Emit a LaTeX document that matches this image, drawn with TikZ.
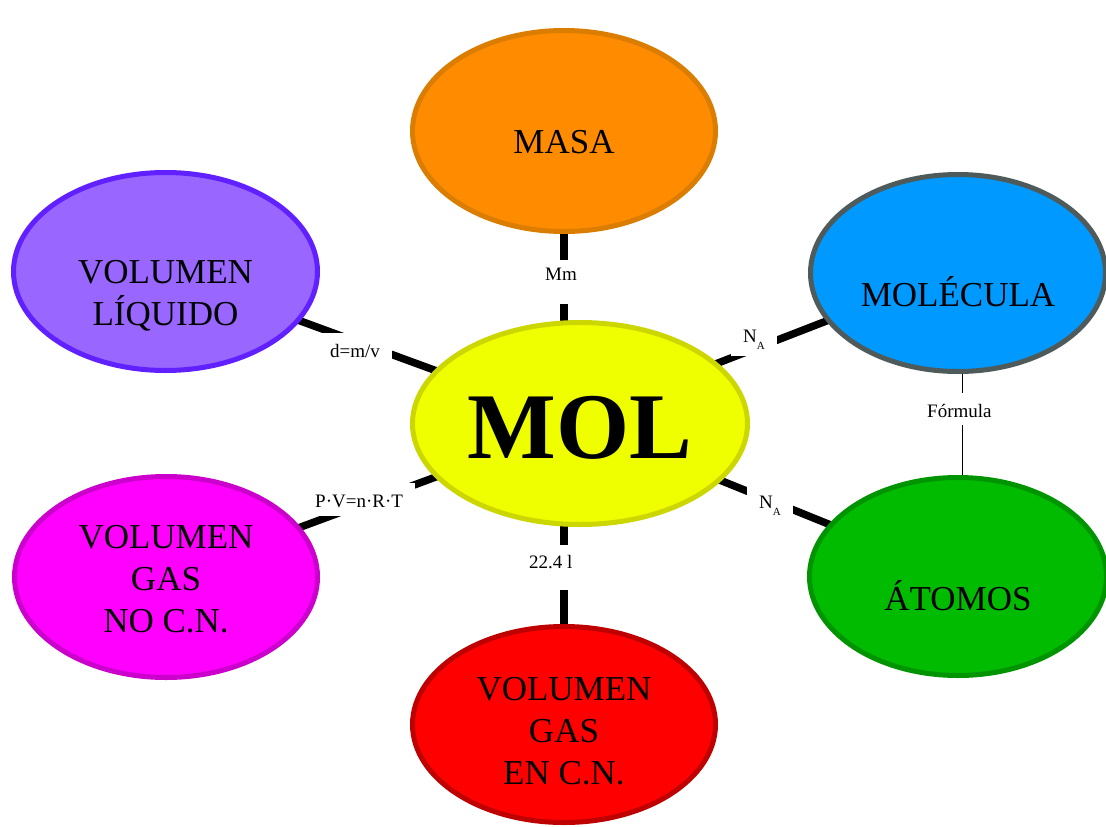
\documentclass[tikz,border=0pt]{standalone}
\usepackage{fontspec}
\setmainfont{Liberation Serif}
\usetikzlibrary{shapes.geometric,backgrounds}
\definecolor{masaF}{HTML}{FF8C00}\definecolor{masaD}{HTML}{DB7D00}
\definecolor{liqF}{HTML}{9966FF}\definecolor{liqD}{HTML}{6020FF}
\definecolor{molecF}{HTML}{0099FF}\definecolor{molecD}{HTML}{4F5B5B}
\definecolor{molF}{HTML}{F0FF00}\definecolor{molD}{HTML}{CCD600}
\definecolor{gasnoF}{HTML}{FF00FF}\definecolor{gasnoD}{HTML}{CC00CC}
\definecolor{atomF}{HTML}{00BB00}\definecolor{atomD}{HTML}{009400}
\definecolor{gasenF}{HTML}{FF0000}\definecolor{gasenD}{HTML}{BF0000}
\newcommand{\bigfont}{\fontsize{35}{42}\selectfont}
\newcommand{\lines}[1]{\begin{tabular}[t]{@{}c@{}}#1\end{tabular}}
\newcommand{\NA}{N\raisebox{-7pt}{\fontsize{11}{11}\selectfont A}}
\begin{document}
\begin{tikzpicture}[x=1pt,y=-1pt,
  bubble/.style={ellipse,line width=5pt,inner sep=0pt,outer sep=0pt,font=\bigfont,text depth=0pt},
  conn/.style={line width=7.5pt,black},
  thinconn/.style={line width=1pt,black},
  lab/.style={fill=white,inner xsep=12pt,inner ysep=0pt,text height=24pt,text depth=14pt,
    font=\fontsize{19}{22}\selectfont,anchor=base west}]
\useasboundingbox (0,0) rectangle (1106,827);
% ellipses
\node[bubble,fill=masaF,draw=masaD,minimum width=303pt,minimum height=201pt,text height=44pt] (masa) at (564,131) {MASA};
\node[bubble,fill=liqF,draw=liqD,minimum width=304pt,minimum height=198pt,text height=23pt] (liq) at (165.5,271.5) {\lines{VOLUMEN\\LÍQUIDO}};
\node[bubble,fill=molecF,draw=molecD,minimum width=295pt,minimum height=197pt,text height=66pt] (molec) at (958,273) {MOLÉCULA};
\node[bubble,fill=molF,draw=molD,minimum width=335pt,minimum height=202pt,text height=69pt,font=\fontsize{94}{100}\selectfont\bfseries] (mol) at (580,423.5) {MOL};
\node[bubble,fill=gasnoF,draw=gasnoD,minimum width=303pt,minimum height=201pt,text height=0pt,text depth=57pt] (gasno) at (166,577) {\lines{VOLUMEN\\GAS\\NO C.N.}};
\node[bubble,fill=atomF,draw=atomD,minimum width=297pt,minimum height=198pt,text height=67pt] (atom) at (958,576.5) {ÁTOMOS};
\node[bubble,fill=gasenF,draw=gasenD,minimum width=303pt,minimum height=196pt,text height=0pt,text depth=49pt] (gasen) at (564,724.5) {\lines{VOLUMEN\\GAS\\EN C.N.}};
% labels
\node[lab,text height=20.5pt,text depth=23.5pt] (lmm) at (533,280.5) {Mm};
\node[lab,text height=23.5pt,text depth=21.5pt] (lcn) at (517,568.5) {22.4 l};
\node[lab] (ld) at (318,357) {d=m/v\hspace{19pt}};
\node[lab,text depth=9pt] (lpv) at (303,507) {P·V=n·R·T\hspace{19pt}};
\node[lab] (lna1) at (731,342) {\NA\hspace{19pt}};
\node[lab] (lna2) at (747,508) {\NA\hspace{17pt}};
\node[lab,text height=24pt,text depth=8pt] (lf) at (915,417) {Fórmula};
% connectors
\begin{scope}[on background layer]
\draw[conn] (masa) -- (masa |- mol);
\draw[conn] (gasen) -- (gasen |- mol);
\draw[conn] (liq) -- (mol);
\draw[conn] (gasno) -- (mol);
\draw[conn] ([yshift=3pt]molec.center) -- ([yshift=7pt]mol.center);
\draw[conn] (atom) -- (mol);
\draw[thinconn] ([xshift=4pt]molec.center) -- ([xshift=4pt]atom.center);
\end{scope}
\end{tikzpicture}
\end{document}
